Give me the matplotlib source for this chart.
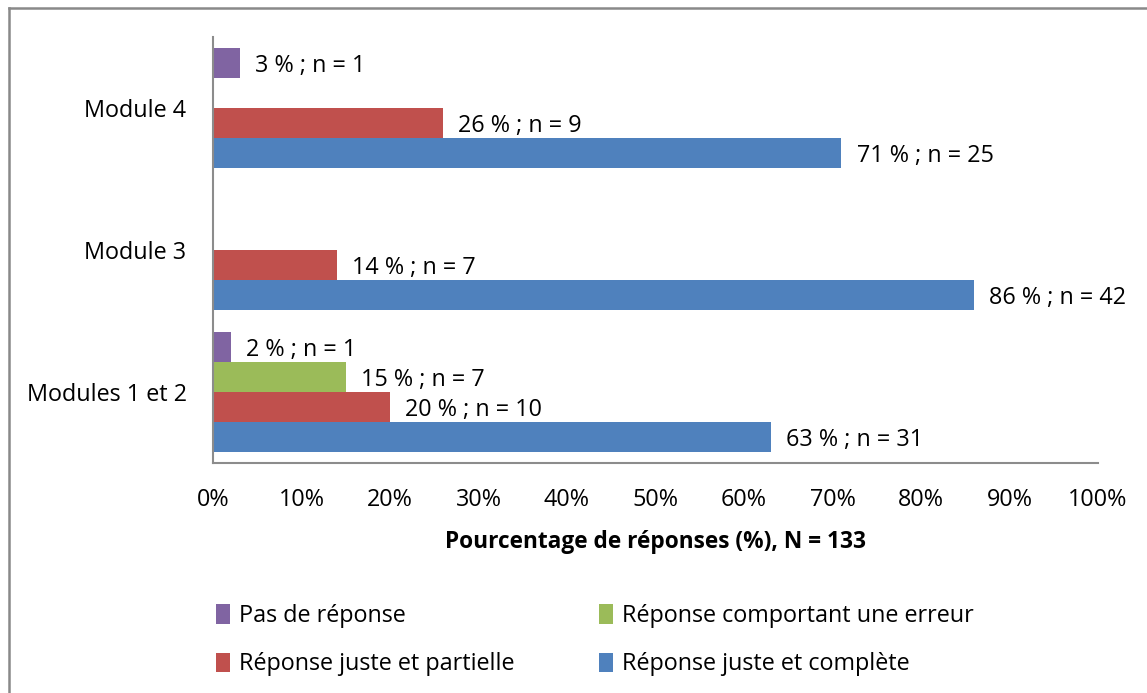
import matplotlib.pyplot as plt
import numpy as np

plt.rcParams['font.family'] = ['Open Sans', 'DejaVu Sans']

categories = ['Modules 1 et 2', 'Module 3', 'Module 4']
series = ['Réponse juste et complète', 'Réponse juste et partielle',
          'Réponse comportant une erreur', 'Pas de réponse']
colors = ['#4F81BD', '#C0504D', '#9BBB59', '#8064A2']

pct_complete = [63, 86, 71]
pct_partial = [20, 14, 26]
pct_error = [15, 0, 0]
pct_none = [2, 0, 3]

n_complete = [31, 42, 25]
n_partial = [10, 7, 9]
n_error = [7, 0, 0]
n_none = [1, 0, 1]

pcts = [pct_complete, pct_partial, pct_error, pct_none]
counts = [n_complete, n_partial, n_error, n_none]

W, H = 1147, 693
fig = plt.figure(figsize=(W / 100, H / 100), dpi=100)
ax = fig.add_axes([213 / W, 1 - 463 / H, (1098 - 213) / W, (463 - 37) / H])

y = np.arange(len(categories))
h = 0.21
fs = 16.8
for i, (vals, ns, col, name) in enumerate(zip(pcts, counts, colors, series)):
    pos = y + (i - 1.5) * h
    ax.barh(pos, vals, height=h, color=col, label=name)
    for yy, v, n in zip(pos, vals, ns):
        if v > 0:
            ax.annotate(f'{v} % ; n = {n}', (v, yy), xytext=(11, -2),
                        textcoords='offset points', va='center', ha='left',
                        fontsize=fs)

ax.set_xlim(0, 100)
ax.set_ylim(-0.5, 2.5)
ax.set_xticks(np.arange(0, 101, 10))
ax.set_xticklabels([f'{t}%' for t in range(0, 101, 10)], fontsize=fs)
ax.set_yticks(y)
ax.set_yticklabels(categories, fontsize=fs)
ax.tick_params(axis='x', length=0, pad=18)
ax.tick_params(axis='y', length=0, pad=19)
for s in ['top', 'right']:
    ax.spines[s].set_visible(False)
for s in ['left', 'bottom']:
    ax.spines[s].set_color('#8C8C8C')
    ax.spines[s].set_linewidth(1.5)
ax.set_xlabel('Pourcentage de réponses (%), N = 133', fontsize=16.3,
              fontweight='bold', labelpad=13)

# legend is filled column by column: col 1 = none, partial ; col 2 = error, complete
handles, labels = ax.get_legend_handles_labels()
order = [3, 1, 2, 0]
fig.legend([handles[k] for k in order], [labels[k] for k in order],
           loc='upper left', bbox_to_anchor=(195 / W, 1 - 583 / H), ncol=2,
           frameon=False, fontsize=fs, handlelength=0.6, handleheight=0.9,
           handletextpad=0.4, labelspacing=1.05, columnspacing=3.6)

fig.add_artist(plt.Line2D([8.5 / W, 8.5 / W], [0, 1 - 7.5 / H],
                          transform=fig.transFigure, color='#898989', lw=1.8))
fig.add_artist(plt.Line2D([8.5 / W, 1], [1 - 7.5 / H, 1 - 7.5 / H],
                          transform=fig.transFigure, color='#898989', lw=1.8))

fig.savefig('out.png', dpi=100)
